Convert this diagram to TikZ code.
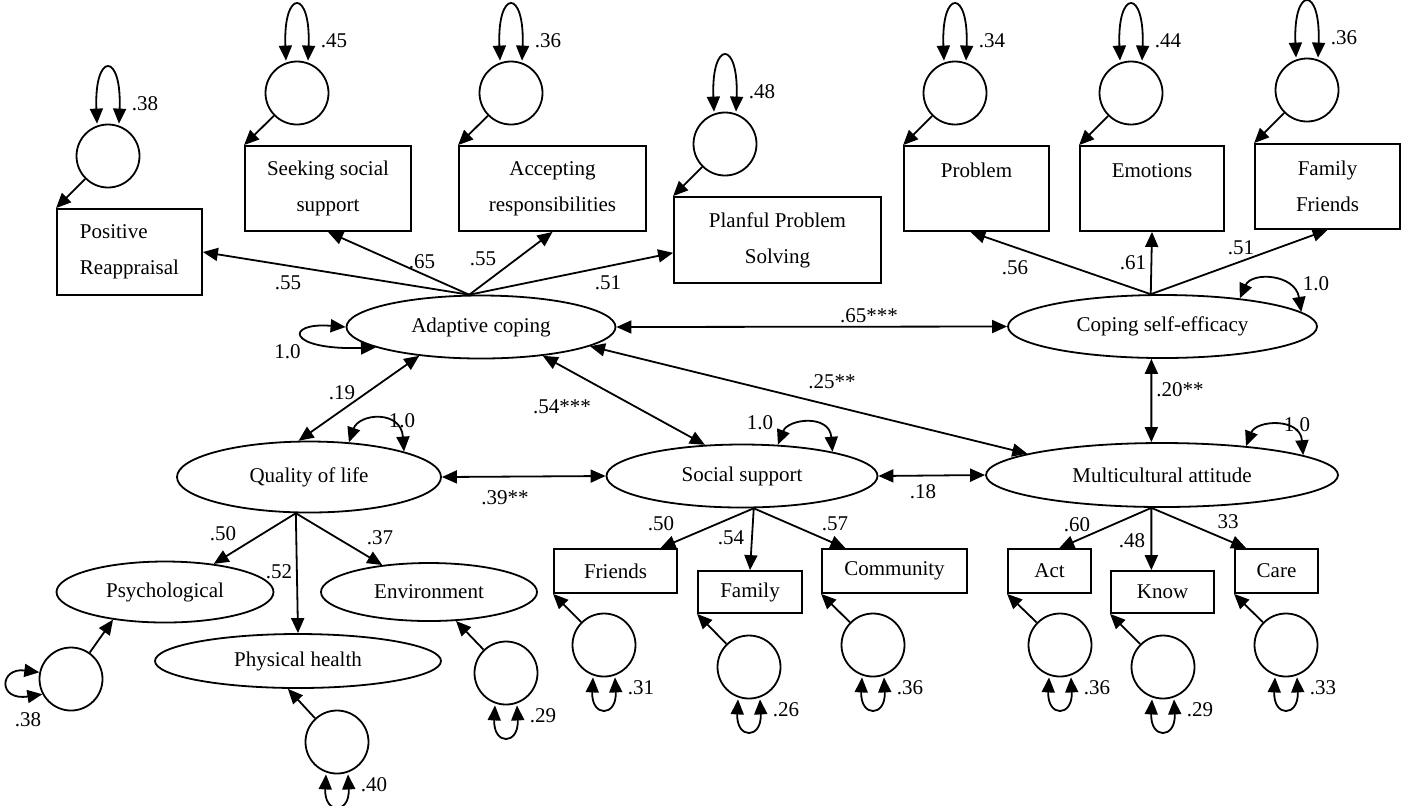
\documentclass[tikz,border=0pt]{standalone}
\usepackage{fontspec}
\setmainfont{Liberation Serif}
\usepackage{tikz}
\usetikzlibrary{shapes,arrows.meta}
\tikzset{
	latent/.style={ellipse,draw,inner sep=0pt},
	indicator/.style={rectangle,draw,inner sep=2pt,align=center},
	residual/.style={circle,draw,minimum size=31.5pt,inner sep=0pt},
	directed/.style={arrows={-Triangle[length=7.5pt,width=6.5pt]}},
	bidirected/.style={arrows={Triangle[length=7.5pt,width=6.5pt]-Triangle[length=7.5pt,width=6.5pt]}},
	coef/.style={inner sep=0pt}
	}

\begin{document}
\begin{tikzpicture}[x=0.5pt, y=-0.5pt, line width=0.9pt, every node/.style={font=\fontsize{10.5}{18}\selectfont}]
\useasboundingbox (0,0) rectangle (1406,805);

% latent variables
\node[latent, minimum width=134.5pt, minimum height=31.5pt] (ac) at (481,327) {Adaptive coping};
\node[latent, minimum width=154.5pt, minimum height=31.5pt] (cse) at (1162.5,326.5) {Coping self-efficacy};
\node[latent, minimum width=132pt, minimum height=35.5pt] (qol) at (309,477) {Quality of life};
\node[latent, minimum width=135.5pt, minimum height=31.5pt] (ss) at (742,476) {Social support};
\node[latent, minimum width=176pt, minimum height=32pt] (ma) at (1162,475) {Multicultural attitude};
\node[latent, minimum width=108.5pt, minimum height=30.5pt] (psy) at (165,592) {Psychological};
\node[latent, minimum width=143pt, minimum height=27pt] (phy) at (298,661) {Physical health};
\node[latent, minimum width=108pt, minimum height=29pt] (env) at (429,592) {Environment};

% indicators
\node[indicator, align=left, minimum width=72.5pt, minimum height=43pt] (pr) at (129.5,252) {Positive\\Reappraisal};
\node[indicator, minimum width=83pt, minimum height=42.5pt] (sss) at (328,188.5) {Seeking social\\support};
\node[indicator, minimum width=93.5pt, minimum height=42.5pt] (ar) at (552.5,188.5) {Accepting\\responsibilities};
\node[indicator, minimum width=103.5pt, minimum height=43pt] (pps) at (777.5,240) {Planful Problem\\Solving};
\node[indicator, minimum width=72.5pt, minimum height=42.5pt] (prob) at (976.5,188.5) {Problem\\~};
\node[indicator, minimum width=72pt, minimum height=42.5pt] (emo) at (1152,188.5) {Emotions\\~};
\node[indicator, minimum width=72.5pt, minimum height=42.5pt] (ff) at (1327.5,186.5) {Family\\Friends};
\node[indicator, minimum width=61.5pt, minimum height=22pt] (fri) at (615.5,571) {Friends};
\node[indicator, minimum width=52pt, minimum height=21pt] (fam) at (750,592) {Family};
\node[indicator, minimum width=72.5pt, minimum height=22pt] (com) at (894.5,571) {Community};
\node[indicator, minimum width=41.5pt, minimum height=22pt] (act) at (1049.5,571) {Act};
\node[indicator, minimum width=51.5pt, minimum height=21pt] (know) at (1162.5,592) {Know};
\node[indicator, minimum width=41.5pt, minimum height=22pt] (care) at (1276.5,571) {Care};

% residuals
\node[residual] (e1) at (108,156) {};
\node[residual] (e2) at (297,93) {};
\node[residual] (e3) at (511,93) {};
\node[residual] (e4) at (725,144) {};
\node[residual] (e5) at (955,93) {};
\node[residual] (e6) at (1131,93) {};
\node[residual] (e7) at (1307,90) {};
\node[residual] (e8) at (71,679) {};
\node[residual] (e9) at (337,742) {};
\node[residual] (e10) at (506,673) {};
\node[residual] (e11) at (604,645) {};
\node[residual] (e12) at (749,667) {};
\node[residual] (e13) at (873,645) {};
\node[residual] (e14) at (1060,645) {};
\node[residual] (e15) at (1163,667) {};
\node[residual] (e16) at (1286,645) {};

\foreach \e/\v in {e1/pr,e2/sss,e3/ar,e4/pps,e5/prob,e6/emo,e7/ff}
  \draw[directed] (\e) -- (\v.north west);
\foreach \e/\v in {e11/fri,e12/fam,e13/com,e14/act,e15/know,e16/care}
  \draw[directed] (\e) -- (\v.south west);
\draw[directed] (e8) -- (psy.208);
\draw[directed] (e9) -- (phy.250);
\draw[directed] (e10) -- (env.313);

% residual variances
\foreach \e/\v in {e1/.38,e2/.45,e3/.36,e4/.48,e5/.34,e6/.44,e7/.36}
  \draw[bidirected] ([xshift=-5.5pt]\e.north) .. controls +(-1.5pt,36pt) and +(1.5pt,36pt) .. ([xshift=5.5pt]\e.north)
    node[coef, anchor=west, xshift=6pt, yshift=10pt] (v\e) {\v};
\foreach \e/\v in {e9/.40,e10/.29,e11/.31,e12/.26,e13/.36,e14/.36,e15/.29,e16/.33}
  \draw[bidirected] ([xshift=-5.5pt]\e.south) .. controls +(-1pt,-20pt) and +(1pt,-20pt) .. ([xshift=5.5pt]\e.south)
    node[coef, anchor=west, xshift=6pt, yshift=-5pt] (v\e) {\v};
\draw[bidirected] (e8.168) .. controls +(-20pt,2.5pt) and +(-22.5pt,-3.5pt) .. (e8.208);
\node[coef] (ve8) at (28,720) {.38};

% loadings
\draw[directed] (ac.110) -- (pr.east);
\draw[directed] (ac.110) -- (sss.south);
\draw[directed] (ac.110) -- (ar.south);
\draw[directed] (ac.110) -- (pps.187);
\draw[directed] (cse.110) -- (prob.262);
\draw[directed] (cse.110) -- (emo.south);
\draw[directed] (cse.110) -- (ff.south);
\draw[directed] (qol.250) -- (psy.30);
\draw[directed] (qol.250) -- (phy.north);
\draw[directed] (qol.250) -- (env.150);
\draw[directed] (ss.290) -- (fri.27);
\draw[directed] (ss.290) -- (fam.north);
\draw[directed] (ss.290) -- (com.155);
\draw[directed] (ma.252) -- (act.67);
\draw[directed] (ma.252) -- (know.117);
\draw[directed] (ma.252) -- (care.143);

% covariances
\draw[bidirected] (ac.east) -- (cse.west);
\draw[bidirected] (ac.205) -- (qol.106);
\draw[bidirected] (ac.335) -- (ss.140);
\draw[bidirected] (ac.350) -- (ma.171);
\draw[bidirected] (cse.251) -- (ma.108);
\draw[bidirected] (qol.east) -- (ss.west);
\draw[bidirected] (ss.east) -- (ma.west);

% latent variances
\draw[bidirected] (ac.west) .. controls +(-30.5pt,2.5pt) and +(-45pt,-1.5pt) .. (ac.191);
\draw[bidirected] (cse.20) .. controls +(6pt,13.5pt) and +(-3pt,19pt) .. (cse.6);
\draw[bidirected] (qol.41) .. controls +(5pt,14.5pt) and +(-1.5pt,21pt) .. (qol.15);
\draw[bidirected] (ss.41) .. controls +(5pt,13pt) and +(-1.5pt,19pt) .. (ss.15);
\draw[bidirected] (ma.19) .. controls +(5pt,13pt) and +(-1.5pt,19pt) .. (ma.8);

% coefficients
\node[coef] (b1) at (288,283) {.55};
\node[coef] (b2) at (422,262) {.65};
\node[coef] (b3) at (483,259) {.55};
\node[coef] (b4) at (608,283) {.51};
\node[coef] (b5) at (1015,268) {.56};
\node[coef] (b6) at (1133,263) {.61};
\node[coef] (b7) at (1241,248) {.51};
\node[coef] (b8) at (223,534) {.50};
\node[coef] (b9) at (279,572) {.52};
\node[coef] (b10) at (380,538) {.37};
\node[coef] (b11) at (661,524) {.50};
\node[coef] (b12) at (731,538) {.54};
\node[coef] (b13) at (835,524) {.57};
\node[coef] (b14) at (1077,525) {.60};
\node[coef] (b15) at (1132,541) {.48};
\node[coef] (b16) at (1228,522) {33};
\node[coef] (r1) at (869,316) {.65***};
\node[coef] (r2) at (832,382) {.25**};
\node[coef] (r3) at (1180,390) {.20**};
\node[coef] (r4) at (342,393) {.19};
\node[coef] (r5) at (562,407) {.54***};
\node[coef] (r6) at (505,498) {.39**};
\node[coef] (r7) at (923,492) {.18};
\node[coef] (v1) at (287.5,352) {1.0};
\node[coef] (v2) at (1316,284) {1.0};
\node[coef] (v3) at (402,421) {1.0};
\node[coef] (v4) at (760,423) {1.0};
\node[coef] (v5) at (1297,425) {1.0};
\end{tikzpicture}
\end{document}
